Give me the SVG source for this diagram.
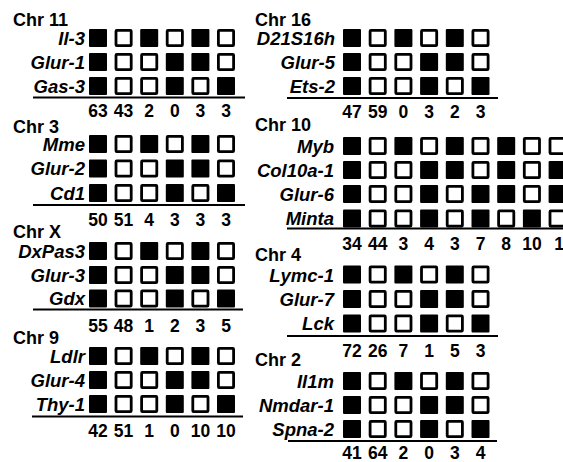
<svg xmlns="http://www.w3.org/2000/svg" xmlns:xlink="http://www.w3.org/1999/xlink" width="563" height="462" viewBox="0 0 563 462">
<style>
.chr{font-family:"Liberation Sans",Arial,sans-serif;font-weight:bold;font-size:18px;fill:#000}
.gene{font-family:"Liberation Sans",Arial,sans-serif;font-weight:bold;font-style:italic;font-size:18.5px;fill:#000;text-anchor:end}
.num{font-family:"Liberation Sans",Arial,sans-serif;font-weight:bold;font-size:17.5px;fill:#000;text-anchor:middle}
.rule{stroke:#000;stroke-width:2;fill:none}
</style>
<defs>
<rect id="b" width="18" height="18" rx="1" fill="#000"/>
<rect id="w" x="1.4" y="1.4" width="15.2" height="15.2" rx="0.8" fill="#fff" stroke="#000" stroke-width="2.8"/>
</defs>
<rect width="563" height="462" fill="#fff"/>

<g id="chr11">
<text class="chr" x="13" y="26">Chr 11</text>
<text class="gene" x="85" y="45">Il-3</text>
<text class="gene" x="85" y="68.5">Glur-1</text>
<text class="gene" x="85" y="92.5">Gas-3</text>
<use href="#b" x="89" y="29"/><use href="#w" x="114.6" y="29"/><use href="#b" x="140.2" y="29"/><use href="#w" x="165.8" y="29"/><use href="#b" x="191.4" y="29"/><use href="#w" x="217" y="29"/>
<use href="#b" x="89" y="53"/><use href="#w" x="114.6" y="53"/><use href="#w" x="140.2" y="53"/><use href="#b" x="165.8" y="53"/><use href="#b" x="191.4" y="53"/><use href="#w" x="217" y="53"/>
<use href="#b" x="89" y="77"/><use href="#w" x="114.6" y="77"/><use href="#w" x="140.2" y="77"/><use href="#b" x="165.8" y="77"/><use href="#w" x="191.4" y="77"/><use href="#b" x="217" y="77"/>
<line class="rule" x1="33" y1="97.5" x2="245" y2="97.5"/>
<text class="num" x="98" y="117">63</text><text class="num" x="123.6" y="117">43</text><text class="num" x="149.2" y="117">2</text><text class="num" x="174.8" y="117">0</text><text class="num" x="200.4" y="117">3</text><text class="num" x="226" y="117">3</text>
</g>

<g id="chr3">
<text class="chr" x="13" y="133">Chr 3</text>
<text class="gene" x="85" y="150.5">Mme</text>
<text class="gene" x="85" y="175">Glur-2</text>
<text class="gene" x="85" y="199.5">Cd1</text>
<use href="#b" x="89" y="135"/><use href="#w" x="114.6" y="135"/><use href="#b" x="140.2" y="135"/><use href="#w" x="165.8" y="135"/><use href="#b" x="191.4" y="135"/><use href="#w" x="217" y="135"/>
<use href="#b" x="89" y="159.5"/><use href="#w" x="114.6" y="159.5"/><use href="#w" x="140.2" y="159.5"/><use href="#b" x="165.8" y="159.5"/><use href="#b" x="191.4" y="159.5"/><use href="#w" x="217" y="159.5"/>
<use href="#b" x="89" y="184"/><use href="#w" x="114.6" y="184"/><use href="#w" x="140.2" y="184"/><use href="#b" x="165.8" y="184"/><use href="#w" x="191.4" y="184"/><use href="#b" x="217" y="184"/>
<line class="rule" x1="33" y1="205" x2="245" y2="205"/>
<text class="num" x="98" y="225.5">50</text><text class="num" x="123.6" y="225.5">51</text><text class="num" x="149.2" y="225.5">4</text><text class="num" x="174.8" y="225.5">3</text><text class="num" x="200.4" y="225.5">3</text><text class="num" x="226" y="225.5">3</text>
</g>

<g id="chrX">
<text class="chr" x="13" y="238">Chr X</text>
<text class="gene" x="85" y="258">DxPas3</text>
<text class="gene" x="85" y="281.5">Glur-3</text>
<text class="gene" x="85" y="305">Gdx</text>
<use href="#b" x="89" y="242"/><use href="#w" x="114.6" y="242"/><use href="#b" x="140.2" y="242"/><use href="#w" x="165.8" y="242"/><use href="#b" x="191.4" y="242"/><use href="#w" x="217" y="242"/>
<use href="#b" x="89" y="266"/><use href="#w" x="114.6" y="266"/><use href="#w" x="140.2" y="266"/><use href="#b" x="165.8" y="266"/><use href="#b" x="191.4" y="266"/><use href="#w" x="217" y="266"/>
<use href="#b" x="89" y="289.5"/><use href="#w" x="114.6" y="289.5"/><use href="#w" x="140.2" y="289.5"/><use href="#b" x="165.8" y="289.5"/><use href="#w" x="191.4" y="289.5"/><use href="#b" x="217" y="289.5"/>
<line class="rule" x1="33" y1="309.5" x2="243" y2="309.5"/>
<text class="num" x="98" y="332">55</text><text class="num" x="123.6" y="332">48</text><text class="num" x="149.2" y="332">1</text><text class="num" x="174.8" y="332">2</text><text class="num" x="200.4" y="332">3</text><text class="num" x="226" y="332">5</text>
</g>

<g id="chr9">
<text class="chr" x="13" y="344">Chr 9</text>
<text class="gene" x="85" y="363">Ldlr</text>
<text class="gene" x="85" y="386.5">Glur-4</text>
<text class="gene" x="85" y="410.5">Thy-1</text>
<use href="#b" x="89" y="347"/><use href="#w" x="114.6" y="347"/><use href="#b" x="140.2" y="347"/><use href="#w" x="165.8" y="347"/><use href="#b" x="191.4" y="347"/><use href="#w" x="217" y="347"/>
<use href="#b" x="89" y="371"/><use href="#w" x="114.6" y="371"/><use href="#w" x="140.2" y="371"/><use href="#b" x="165.8" y="371"/><use href="#b" x="191.4" y="371"/><use href="#w" x="217" y="371"/>
<use href="#b" x="89" y="395"/><use href="#w" x="114.6" y="395"/><use href="#w" x="140.2" y="395"/><use href="#b" x="165.8" y="395"/><use href="#w" x="191.4" y="395"/><use href="#b" x="217" y="395"/>
<line class="rule" x1="32" y1="416.5" x2="243" y2="416.5"/>
<text class="num" x="98" y="437">42</text><text class="num" x="123.6" y="437">51</text><text class="num" x="149.2" y="437">1</text><text class="num" x="174.8" y="437">0</text><text class="num" x="200.4" y="437">10</text><text class="num" x="226" y="437">10</text>
</g>

<g id="chr16">
<text class="chr" x="255" y="26">Chr 16</text>
<text class="gene" x="335" y="45">D21S16h</text>
<text class="gene" x="335" y="68.5">Glur-5</text>
<text class="gene" x="335" y="92.5">Ets-2</text>
<use href="#b" x="343" y="29"/><use href="#w" x="368.7" y="29"/><use href="#b" x="394.4" y="29"/><use href="#w" x="420.1" y="29"/><use href="#b" x="445.8" y="29"/><use href="#w" x="471.5" y="29"/>
<use href="#b" x="343" y="53"/><use href="#w" x="368.7" y="53"/><use href="#w" x="394.4" y="53"/><use href="#b" x="420.1" y="53"/><use href="#b" x="445.8" y="53"/><use href="#w" x="471.5" y="53"/>
<use href="#b" x="343" y="77"/><use href="#w" x="368.7" y="77"/><use href="#w" x="394.4" y="77"/><use href="#b" x="420.1" y="77"/><use href="#w" x="445.8" y="77"/><use href="#b" x="471.5" y="77"/>
<line class="rule" x1="287" y1="98" x2="498" y2="98"/>
<text class="num" x="352" y="118">47</text><text class="num" x="377.7" y="118">59</text><text class="num" x="403.4" y="118">0</text><text class="num" x="429.1" y="118">3</text><text class="num" x="454.8" y="118">2</text><text class="num" x="480.5" y="118">3</text>
</g>

<g id="chr10">
<text class="chr" x="255" y="131">Chr 10</text>
<text class="gene" x="334" y="152.5">Myb</text>
<text class="gene" x="334" y="176.5">Col10a-1</text>
<text class="gene" x="334" y="200.5">Glur-6</text>
<text class="gene" x="334" y="224.5">Minta</text>
<use href="#b" x="343" y="137"/><use href="#w" x="368.7" y="137"/><use href="#b" x="394.4" y="137"/><use href="#w" x="420.1" y="137"/><use href="#b" x="445.8" y="137"/><use href="#w" x="471.5" y="137"/><use href="#b" x="497.2" y="137"/><use href="#w" x="522.9" y="137"/><use href="#w" x="548.6" y="137"/>
<use href="#b" x="343" y="161"/><use href="#w" x="368.7" y="161"/><use href="#w" x="394.4" y="161"/><use href="#b" x="420.1" y="161"/><use href="#b" x="445.8" y="161"/><use href="#w" x="471.5" y="161"/><use href="#b" x="497.2" y="161"/><use href="#w" x="522.9" y="161"/><use href="#b" x="548.6" y="161"/>
<use href="#b" x="343" y="185"/><use href="#w" x="368.7" y="185"/><use href="#w" x="394.4" y="185"/><use href="#b" x="420.1" y="185"/><use href="#w" x="445.8" y="185"/><use href="#b" x="471.5" y="185"/><use href="#b" x="497.2" y="185"/><use href="#w" x="522.9" y="185"/><use href="#b" x="548.6" y="185"/>
<use href="#b" x="343" y="209.5"/><use href="#w" x="368.7" y="209.5"/><use href="#w" x="394.4" y="209.5"/><use href="#b" x="420.1" y="209.5"/><use href="#w" x="445.8" y="209.5"/><use href="#b" x="471.5" y="209.5"/><use href="#w" x="497.2" y="209.5"/><use href="#b" x="522.9" y="209.5"/><use href="#w" x="548.6" y="209.5"/>
<line class="rule" x1="287" y1="228.5" x2="563" y2="228.5"/>
<text class="num" x="352" y="250">34</text><text class="num" x="377.7" y="250">44</text><text class="num" x="403.4" y="250">3</text><text class="num" x="429.1" y="250">4</text><text class="num" x="454.8" y="250">3</text><text class="num" x="480.5" y="250">7</text><text class="num" x="506.2" y="250">8</text><text class="num" x="531.9" y="250">10</text><text class="num" x="559" y="250">1</text>
</g>

<g id="chr4">
<text class="chr" x="255" y="261">Chr 4</text>
<text class="gene" x="334" y="281.5">Lymc-1</text>
<text class="gene" x="334" y="305.5">Glur-7</text>
<text class="gene" x="334" y="330">Lck</text>
<use href="#b" x="343" y="265.5"/><use href="#w" x="368.7" y="265.5"/><use href="#b" x="394.4" y="265.5"/><use href="#w" x="420.1" y="265.5"/><use href="#b" x="445.8" y="265.5"/><use href="#w" x="471.5" y="265.5"/>
<use href="#b" x="343" y="290"/><use href="#w" x="368.7" y="290"/><use href="#w" x="394.4" y="290"/><use href="#b" x="420.1" y="290"/><use href="#b" x="445.8" y="290"/><use href="#w" x="471.5" y="290"/>
<use href="#b" x="343" y="314.5"/><use href="#w" x="368.7" y="314.5"/><use href="#w" x="394.4" y="314.5"/><use href="#b" x="420.1" y="314.5"/><use href="#w" x="445.8" y="314.5"/><use href="#b" x="471.5" y="314.5"/>
<line class="rule" x1="287" y1="336" x2="498" y2="336"/>
<text class="num" x="352" y="357">72</text><text class="num" x="377.7" y="357">26</text><text class="num" x="403.4" y="357">7</text><text class="num" x="429.1" y="357">1</text><text class="num" x="454.8" y="357">5</text><text class="num" x="480.5" y="357">3</text>
</g>

<g id="chr2">
<text class="chr" x="255" y="366">Chr 2</text>
<text class="gene" x="334" y="387.5">Il1m</text>
<text class="gene" x="334" y="411.5">Nmdar-1</text>
<text class="gene" x="334" y="435.5">Spna-2</text>
<use href="#b" x="343" y="372"/><use href="#w" x="368.7" y="372"/><use href="#b" x="394.4" y="372"/><use href="#w" x="420.1" y="372"/><use href="#b" x="445.8" y="372"/><use href="#w" x="471.5" y="372"/>
<use href="#b" x="343" y="396"/><use href="#w" x="368.7" y="396"/><use href="#w" x="394.4" y="396"/><use href="#b" x="420.1" y="396"/><use href="#b" x="445.8" y="396"/><use href="#w" x="471.5" y="396"/>
<use href="#b" x="343" y="420"/><use href="#w" x="368.7" y="420"/><use href="#w" x="394.4" y="420"/><use href="#b" x="420.1" y="420"/><use href="#w" x="445.8" y="420"/><use href="#b" x="471.5" y="420"/>
<line class="rule" x1="288" y1="441" x2="497" y2="441"/>
<text class="num" x="352" y="458.5">41</text><text class="num" x="377.7" y="458.5">64</text><text class="num" x="403.4" y="458.5">2</text><text class="num" x="429.1" y="458.5">0</text><text class="num" x="454.8" y="458.5">3</text><text class="num" x="480.5" y="458.5">4</text>
</g>
</svg>
